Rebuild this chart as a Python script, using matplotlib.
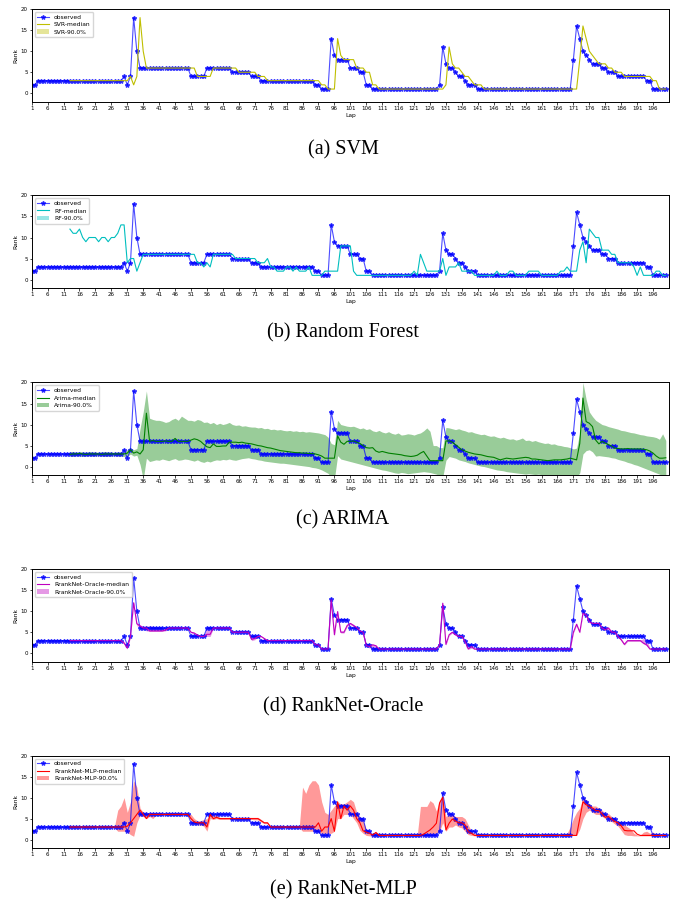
import numpy as np
import matplotlib
matplotlib.use("Agg")
import matplotlib.pyplot as plt

# laps 1..200 for the observed rank, forecasts start at lap 13
laps = np.arange(1, 201)
pred_laps = np.arange(13, 201)

observed = [
    2, 2, 3, 3, 3, 3, 3, 3, 3, 3,
    3, 3, 3, 3, 3, 3, 3, 3, 3, 3,
    3, 3, 3, 3, 3, 3, 3, 3, 3, 4,
    2, 4, 18, 10, 6, 6, 6, 6, 6, 6,
    6, 6, 6, 6, 6, 6, 6, 6, 6, 6,
    4, 4, 4, 4, 4, 6, 6, 6, 6, 6,
    6, 6, 6, 5, 5, 5, 5, 5, 5, 4,
    4, 4, 3, 3, 3, 3, 3, 3, 3, 3,
    3, 3, 3, 3, 3, 3, 3, 3, 3, 2,
    2, 1, 1, 1, 13, 9, 8, 8, 8, 8,
    6, 6, 6, 5, 5, 2, 2, 1, 1, 1,
    1, 1, 1, 1, 1, 1, 1, 1, 1, 1,
    1, 1, 1, 1, 1, 1, 1, 1, 2, 11,
    7, 6, 6, 5, 4, 4, 3, 2, 2, 2,
    1, 1, 1, 1, 1, 1, 1, 1, 1, 1,
    1, 1, 1, 1, 1, 1, 1, 1, 1, 1,
    1, 1, 1, 1, 1, 1, 1, 1, 1, 1,
    8, 16, 13, 10, 9, 8, 7, 7, 7, 6,
    6, 5, 5, 5, 4, 4, 4, 4, 4, 4,
    4, 4, 4, 3, 3, 1, 1, 1, 1, 1,
]

# SVR (no visible band)
svr_median = [
    3, 3, 3, 3, 3, 3, 3, 3,
    3, 3, 3, 3, 3, 3, 3, 3, 3, 3,
    3, 4, 2, 4, 18, 10, 6, 6, 6, 6,
    6, 6, 6, 6, 6, 6, 6, 6, 6, 6,
    6, 6, 4, 4, 4, 4, 4, 6, 6, 6,
    6, 6, 6, 6, 6, 5, 5, 5, 5, 5,
    5, 4, 4, 4, 3, 3, 3, 3, 3, 3,
    3, 3, 3, 3, 3, 3, 3, 3, 3, 3,
    3, 2, 2, 1, 1, 1, 13, 9, 8, 8,
    8, 8, 6, 6, 6, 5, 5, 2, 2, 1,
    1, 1, 1, 1, 1, 1, 1, 1, 1, 1,
    1, 1, 1, 1, 1, 1, 1, 1, 1, 1,
    2, 11, 7, 6, 6, 5, 4, 4, 3, 2,
    2, 2, 1, 1, 1, 1, 1, 1, 1, 1,
    1, 1, 1, 1, 1, 1, 1, 1, 1, 1,
    1, 1, 1, 1, 1, 1, 1, 1, 1, 1,
    1, 1, 8, 16, 13, 10, 9, 8, 7, 7,
    7, 6, 6, 5, 5, 5, 4, 4, 4, 4,
    4, 4, 4, 4, 4, 3, 3, 1, 1, 1,
]

# Random Forest (no visible band)
rf_median = [
    12, 11, 11, 12, 10, 9, 10, 10,
    10, 9, 10, 10, 9, 10, 10, 11, 13, 13,
    4, 5, 5, 2, 4, 6, 6, 6, 6, 6,
    6, 6, 6, 6, 6, 6, 6, 6, 6, 6,
    6, 6, 4, 4, 3, 4, 3, 6, 6, 6,
    6, 6, 6, 6, 5, 5, 5, 5, 5, 5,
    5, 4, 4, 4, 5, 3, 3, 2, 2, 2,
    3, 3, 2, 3, 2, 2, 2, 3, 1, 1,
    1, 1, 2, 2, 2, 2, 2, 8, 8, 8,
    8, 2, 1, 1, 1, 1, 1, 1, 1, 1,
    1, 1, 1, 1, 1, 1, 1, 1, 1, 1,
    2, 1, 6, 4, 2, 2, 2, 2, 2, 5,
    1, 3, 3, 3, 4, 2, 2, 2, 2, 1,
    1, 1, 1, 1, 1, 1, 2, 1, 1, 1,
    2, 2, 1, 1, 1, 1, 2, 2, 2, 2,
    1, 1, 1, 1, 1, 1, 2, 2, 3, 2,
    2, 2, 7, 9, 4, 12, 11, 10, 10, 7,
    7, 7, 6, 6, 4, 4, 4, 4, 4, 3,
    1, 3, 1, 1, 1, 1, 2, 2, 1, 1,
]

# ARIMA
arima_median = [
    2.9, 3, 3, 3.1, 3, 2.9, 3, 3,
    3, 3, 2.9, 3, 3, 3, 3, 3, 3, 3,
    3.2, 4, 3.2, 3.5, 3, 4, 12.7, 6, 6.2, 6,
    6, 6, 6.1, 6, 6, 6.7, 6, 6, 6, 6,
    6.3, 6.6, 6.4, 6, 5.3, 4.7, 4.5, 5.4, 4.8, 4.8,
    4.9, 4.9, 5.8, 5.8, 5.8, 5.7, 5.8, 5.6, 5.5, 5.4,
    5.2, 5, 4.9, 4.7, 4.5, 4.4, 4.2, 4, 3.8, 3.7,
    3.6, 3.5, 3.4, 3.3, 3.3, 3.2, 3.2, 3.1, 3.1, 3,
    2.8, 2.5, 2, 2, 2, 2, 7.3, 5.8, 5.3, 6,
    6, 6.1, 5.8, 5.5, 5, 4.5, 4.4, 4.5, 3.7, 3.4,
    3.6, 3.4, 3.2, 3.1, 3, 2.9, 2.8, 2.6, 2.5, 2.4,
    2.5, 2.7, 3.2, 3.6, 2.5, 1.4, 1.4, 1.4, 1.4, 1.4,
    6.1, 6.1, 5.8, 5.2, 4.6, 4, 3.7, 3.4, 3.2, 3,
    2.9, 2.8, 2.6, 2.4, 2.3, 2.2, 1.9, 1.6, 1.8, 2,
    1.9, 1.8, 1.9, 2, 2.1, 2.2, 2.1, 1.8, 1.8, 1.7,
    1.6, 1.5, 1.4, 1.5, 1.6, 1.6, 1.6, 1.7, 1.8, 2,
    1.8, 1.6, 5.5, 16.3, 10.7, 10.3, 9.5, 6.3, 5.4, 6,
    5.6, 5.2, 4.9, 4.4, 4.3, 4.2, 4.2, 4.3, 4.2, 4.2,
    4.2, 4.2, 4.1, 4, 3.7, 3.2, 2.5, 2, 2, 2.1,
]
arima_hi = [
    3.5, 3.6, 3.4, 3.6, 3.5, 3.4, 3.6, 3.5,
    3.5, 3.4, 3.5, 3.6, 3.5, 3.5, 3.4, 3.5, 3.5, 3.6,
    4, 4.5, 4, 4.3, 9, 13, 18, 11.5, 11.2, 11,
    11, 10.8, 10.5, 10.7, 11.2, 11.5, 11, 12, 11.5, 11,
    11, 10.8, 11.2, 11, 10.5, 10.6, 10.2, 10.5, 10, 10.3,
    10, 10.2, 10.5, 10, 9.8, 9.9, 9.6, 9.7, 9.5, 9.4,
    9.4, 9.2, 9.3, 9, 9.1, 8.8, 8.9, 8.7, 8.8, 8.6,
    8.5, 8.6, 8.4, 8.5, 8.3, 8.4, 8.2, 8.3, 8.2, 8.1,
    8, 7.8, 7.6, 7, 5.5, 5.2, 11, 10, 9.8, 9.6,
    9.5, 9.6, 9.3, 9, 9.2, 8.8, 9, 8.5, 8.3, 8.6,
    8.2, 8, 8.3, 7.9, 7.7, 8, 7.5, 7.6, 7.8, 7.7,
    7.5, 7.8, 8, 8.5, 9.2, 8.4, 5, 5, 4.5, 4.5,
    9.3, 9.2, 9, 8.8, 9, 8.7, 8.5, 8.2, 8.3, 8,
    7.8, 7.6, 7.7, 7.4, 7.2, 7.3, 7, 6.8, 7, 6.7,
    6.5, 6.6, 6.3, 6.5, 6.8, 6.2, 6.3, 6, 6.2, 5.9,
    5.7, 5.5, 5.6, 5.3, 5.4, 5.1, 5, 4.8, 4.7, 4.5,
    4.2, 4.4, 8, 20, 16, 13, 11.9, 11, 10.5, 10,
    9.8, 9.5, 9.3, 9.1, 8.9, 8.6, 8.5, 8.3, 8.1, 8,
    7.8, 7.6, 7.5, 7.3, 7.2, 7.1, 6.9, 6.5, 7.8, 6.2,
]
arima_lo = [
    2.5, 2.4, 2.6, 2.5, 2.4, 2.5, 2.6, 2.5,
    2.5, 2.6, 2.5, 2.4, 2.5, 2.5, 2.6, 2.5, 2.5, 2.4,
    2.4, 3, 2.5, 2.7, 0.5, -3, 2, 1.2, 1.4, 1.6,
    1.5, 1.8, 1.6, 1.4, 1.7, 1.9, 1.5, 1.6, 1.8, 1.7,
    1.5, 1.3, 1.6, 1.2, 1, 1.3, 1.1, 1.4, 1.6, 1.5,
    1.7, 1.6, 1.8, 1.6, 1.5, 1.7, 1.9, 2, 2.1, 1.9,
    1.8, 1.6, 1.5, 1.3, 1.2, 1.1, 1, 0.9, 0.8, 0.8,
    0.7, 0.6, 0.5, 0.4, 0.3, 0.2, 0.1, 0, -0.2, -0.3,
    -0.5, -0.8, -1.2, -1.6, -2.5, -3, 2.6, 1.8, 1.6, 1.4,
    1.2, 1, 0.8, 0.6, 0.4, 0.2, 0, -0.2, -0.4, -0.6,
    -0.8, -0.9, -1.1, -1.3, -1.5, -1.6, -1.4, -1.5, -1.7, -1.6,
    -1.5, -1.4, -1.3, -1.2, -1.3, -1.4, -1.6, -1.8, -2.2, -2.5,
    1.5, 2.4, 2.2, 2, 1.6, 1.4, 1.2, 0.9, 0.7, 0.5,
    0.3, 0.1, 0, -0.2, -0.4, -0.6, -0.8, -0.9, -1, -1.2,
    -1.3, -1.4, -1.5, -1.6, -1.7, -1.8, -1.7, -1.8, -1.9, -1.8,
    -1.9, -2, -1.9, -2, -2.1, -2, -2.1, -2.2, -2.2, -2.3,
    -2.5, -2.5, -1.5, 3, 3.8, 4, 3.5, 2.5, 2.6, 2.5,
    2.4, 2.3, 2.1, 2, 1.7, 1.5, 1.3, 1, 0.8, 0.5,
    0.3, 0, -0.3, -0.6, -0.9, -1.2, -1.5, -1.8, -2.2, -2.5,
]

# RankNet-Oracle
oracle_median = [
    3, 3, 3, 3, 3, 3, 3, 3,
    3, 3, 3, 3, 3, 3, 3, 3, 3, 2.4,
    1.2, 4, 12, 7, 6.5, 6, 6, 5.3, 5.3, 5.3,
    5.3, 5.3, 5.5, 6, 6, 6, 6, 6, 6, 6,
    5, 4.8, 4.3, 4, 4, 4.5, 4.5, 6, 6, 6,
    6, 6, 6, 5, 5, 5, 5, 5, 5, 3.3,
    3.5, 4, 4, 3.5, 3, 3, 3, 3, 3, 3,
    3, 3, 3, 3, 3, 3, 3, 3, 3, 2,
    2, 1, 1, 1, 12.7, 4.4, 9.9, 5, 5, 6.6,
    7.1, 6.6, 6.1, 5.3, 5, 1.8, 1.6, 2, 1.8, 1,
    1, 1, 1, 1, 1, 1, 1, 1, 1, 1,
    1, 1, 1, 1, 1, 1, 1, 1, 2, 11.9,
    2.1, 4.4, 5, 4.4, 4, 4, 2.8, 1, 1.6, 1,
    1, 1, 1, 1, 1, 1, 1, 1, 1, 1,
    1, 1, 1, 1, 1, 1, 1, 1, 1, 1,
    1, 1, 1, 1, 1, 1, 1, 1, 1, 1,
    5, 6.9, 5, 9.5, 9.1, 7.5, 7.1, 7.1, 7.1, 6,
    5.6, 6, 5, 5, 4, 3.2, 2.1, 3, 3, 3,
    3, 3, 2.4, 2, 1, 1, 1, 1, 1, 1,
]
oracle_lo = [
    2.9, 2.9, 2.9, 2.9, 2.9, 2.9, 2.9, 2.9,
    2.9, 2.9, 2.9, 2.9, 2.9, 2.9, 2.9, 2.9, 2.9, 2.2,
    1, 3.8, 11.5, 6.5, 6.2, 5.8, 5.3, 5.2, 5.2, 5.2,
    5.2, 5.2, 5.3, 5.8, 5.9, 5.9, 5.9, 5.9, 5.9, 5.9,
    4.8, 4.6, 4.2, 3.9, 3.9, 4, 4, 5.9, 5.9, 5.9,
    5.9, 5.9, 5.9, 4.9, 4.9, 4.9, 4.9, 4.9, 4.9, 3,
    3.2, 3.9, 3.9, 3.3, 2.9, 2.9, 2.9, 2.9, 2.9, 2.9,
    2.9, 2.9, 2.9, 2.9, 2.9, 2.9, 2.9, 2.9, 2.9, 1.9,
    1.9, 0.9, 0.9, 0.9, 12, 4, 9.5, 4.8, 4.8, 6.3,
    6.8, 6.3, 5.9, 5.1, 4.8, 1.6, 1.2, 1.3, 1.2, 0.9,
    0.9, 0.9, 0.9, 0.9, 0.9, 0.9, 0.9, 0.9, 0.9, 0.9,
    0.9, 0.9, 0.9, 0.9, 0.9, 0.9, 0.9, 0.9, 1.8, 11.5,
    1.9, 4.2, 4.8, 4.2, 3.8, 3.8, 2.6, 0.9, 1.2, 0.9,
    0.9, 0.9, 0.9, 0.9, 0.9, 0.9, 0.9, 0.9, 0.9, 0.9,
    0.9, 0.9, 0.9, 0.9, 0.9, 0.9, 0.9, 0.9, 0.9, 0.9,
    0.9, 0.9, 0.9, 0.9, 0.9, 0.9, 0.9, 0.9, 0.9, 0.9,
    4.8, 6.6, 4.8, 9.2, 8.8, 7.2, 6.9, 6.9, 6.9, 5.8,
    5.4, 5.7, 4.8, 4.8, 3.8, 3, 1.9, 2.8, 2.8, 2.8,
    2.8, 2.8, 2.2, 1.8, 0.9, 0.9, 0.9, 0.9, 0.9, 0.9,
]
oracle_hi = [
    3.1, 3.1, 3.1, 3.1, 3.1, 3.1, 3.1, 3.1,
    3.1, 3.1, 3.1, 3.1, 3.1, 3.1, 3.1, 3.1, 3.1, 2.8,
    1.6, 4.3, 12.3, 7.3, 6.8, 6.4, 6.5, 6.5, 6.4, 6.3,
    6.2, 6, 6, 6.1, 6.1, 6.1, 6.1, 6.1, 6.1, 6.1,
    5.2, 5, 4.6, 4.2, 4.2, 6, 5.8, 6.1, 6.1, 6.1,
    6.1, 6.1, 6.1, 5.1, 5.1, 5.1, 5.1, 5.1, 5.1, 3.8,
    4, 4.1, 4.1, 3.7, 3.1, 3.1, 3.1, 3.1, 3.1, 3.1,
    3.1, 3.1, 3.1, 3.1, 3.1, 3.1, 3.1, 3.1, 3.1, 2.1,
    2.1, 1.1, 1.1, 1.1, 13, 4.8, 10.2, 5.3, 5.3, 6.9,
    7.3, 6.9, 6.3, 5.5, 5.2, 2.2, 2.3, 2.2, 2, 1.1,
    1.1, 1.1, 1.1, 1.1, 1.1, 1.1, 1.1, 1.1, 1.1, 1.1,
    1.1, 1.1, 1.1, 1.1, 1.1, 1.1, 1.1, 1.1, 2.2, 12.2,
    2.3, 4.6, 5.2, 4.6, 4.2, 4.2, 3, 1.3, 1.8, 1.1,
    1.1, 1.1, 1.1, 1.1, 1.1, 1.1, 1.1, 1.1, 1.1, 1.1,
    1.1, 1.1, 1.1, 1.1, 1.1, 1.1, 1.1, 1.1, 1.1, 1.1,
    1.1, 1.1, 1.1, 1.1, 1.1, 1.1, 1.1, 1.1, 1.1, 1.1,
    5.3, 7.2, 5.3, 9.8, 9.4, 7.8, 7.3, 7.3, 7.3, 6.3,
    6, 6.3, 5.3, 5.2, 4.2, 3.5, 2.4, 3.2, 3.2, 3.2,
    3.2, 3.2, 3.5, 3.3, 1.3, 1.1, 1.1, 1.1, 1.1, 1.1,
]

# RankNet-MLP
mlp_median = [
    3, 3, 3, 3, 3, 3, 3, 3,
    3, 3, 3, 3, 3, 3, 3, 3, 3, 3,
    3.2, 4, 5, 6, 7, 6, 5, 6, 6, 6,
    6, 6, 6, 6, 6, 6, 6, 6, 6, 6,
    5, 4.2, 4, 4, 4, 3, 6, 5, 5.3, 5,
    5, 5, 5, 5, 5, 5, 5, 5, 5, 5,
    5, 5, 4.5, 4, 4, 3, 3, 3, 3, 3,
    3, 3, 3, 3, 3, 3, 3, 3, 3, 3,
    4, 2, 3, 3, 5, 2, 9, 5, 8, 7,
    8, 7, 5, 4, 2.1, 1.8, 1.5, 1.1, 1.7, 1,
    1, 1, 1, 1, 1, 1, 1, 1, 1, 1,
    1, 1, 1, 1.3, 1.8, 2.3, 3, 3.9, 8.7, 10.1,
    2.3, 3.9, 4.9, 4.4, 4, 4, 3.5, 1.9, 1.5, 1,
    1, 1, 1, 1, 1, 1, 1, 1, 1, 1,
    1, 1, 1, 1, 1, 1, 1, 1, 1, 1,
    1, 1, 1, 1, 1, 1, 1, 1, 1, 1,
    1, 1, 5, 9, 8.3, 7.9, 7.5, 6.9, 6.9, 6.1,
    5.3, 5.5, 4.9, 4.3, 4, 3.3, 2.2, 2.1, 2.1, 2.1,
    1.3, 1, 1, 1, 1, 1, 1, 1, 1, 1,
]
mlp_lo = [
    2.8, 2.8, 2.8, 2.8, 2.8, 2.8, 2.8, 2.8,
    2.8, 2.8, 2.8, 2.8, 2.8, 2.8, 2.8, 2, 2, 2,
    1.8, 1.2, 0.8, 4, 5.8, 5.5, 5, 5.5, 5, 5.8,
    5.8, 5.8, 5.8, 5.8, 5.8, 5.8, 5.8, 5.8, 5.8, 5.8,
    4.5, 3.8, 3.5, 3.5, 3.2, 2, 5, 4.8, 5, 4.8,
    4.8, 4.8, 4.8, 4.8, 4.8, 4.8, 4.8, 4.8, 4.8, 4.8,
    4.7, 4.7, 4.2, 3.8, 3.8, 2.8, 2.8, 2.8, 2.8, 2.8,
    2.8, 2.8, 2.8, 2.8, 2.8, 2, 2, 2, 2, 2,
    1.8, 1.5, 1.5, 1.5, 1.5, 2, 5, 5, 6, 6,
    6, 5, 4, 2.2, 1.5, 1, 0.9, 0.9, 0.9, 0.9,
    0.9, 0.9, 0.9, 0.9, 0.9, 0.9, 0.9, 0.9, 0.9, 0.9,
    0.9, 0.9, 0.9, 0.9, 1, 1.2, 1.3, 1.5, 2, 4,
    2, 3, 3, 3.5, 3, 2.8, 2, 1.2, 1, 0.9,
    0.9, 0.9, 0.9, 0.9, 0.9, 0.9, 0.9, 0.9, 0.9, 0.9,
    0.9, 0.9, 0.9, 0.9, 0.9, 0.9, 0.9, 0.9, 0.9, 0.9,
    0.9, 0.9, 0.9, 0.9, 0.9, 0.9, 0.9, 0.9, 0.9, 0.9,
    1, 1, 2.5, 5, 6.5, 7, 6.5, 6, 6, 5.5,
    5, 4.5, 4.3, 3.7, 3.2, 2.2, 1.2, 1, 1, 0.9,
    0.9, 0.9, 0.9, 0.9, 0.9, 0.9, 0.9, 0.9, 0.9, 0.9,
]
mlp_hi = [
    3.2, 3.2, 3.2, 3.2, 3.2, 3.2, 3.2, 3.2,
    3.2, 3.2, 3.2, 3.2, 3.2, 3.2, 3.2, 7, 8, 10,
    6.5, 9, 14, 12.5, 7.5, 6.5, 6.5, 6.3, 6.3, 6.2,
    6.2, 6.2, 6.2, 6.2, 6.2, 6.2, 6.2, 6.2, 6.2, 6.2,
    6, 5, 4.5, 4.5, 4.8, 5, 6.5, 6, 6, 5.3,
    5.3, 5.3, 5.3, 5.3, 5.3, 5.3, 5.3, 5.3, 5.3, 5.3,
    5.3, 5.3, 4.8, 4.2, 4.2, 3.2, 3.2, 3.2, 3.2, 3.2,
    3.2, 3.2, 3.2, 3.2, 3.2, 12.5, 11, 13, 14, 14,
    13, 9, 6.5, 6, 7, 8, 9, 8.5, 8.5, 9,
    9.6, 9, 6.5, 5.5, 4.5, 2.5, 1.5, 1.3, 2, 1.2,
    1.1, 1.1, 1.1, 1.1, 1.1, 1.1, 1.1, 1.1, 1.1, 1.1,
    1.1, 1.1, 7.9, 7.9, 7.9, 9.3, 8.7, 6.8, 9.5, 10,
    5.5, 6, 6, 5.5, 5.5, 5.5, 5, 3.5, 2, 1.5,
    1.3, 1.5, 1.1, 1.1, 1.1, 1.1, 1.1, 1.1, 1.1, 1.1,
    1.1, 1.1, 1.1, 1.1, 1.1, 1.1, 1.1, 1.1, 1.1, 1.1,
    1.1, 1.1, 1.1, 1.1, 1.1, 1.1, 1.1, 1.1, 1.5, 3,
    5, 6.5, 7.5, 10, 9.5, 8.5, 8, 8, 7.5, 7,
    6.2, 6.2, 5.5, 4.6, 4.5, 4, 3.5, 3, 2.5, 1.5,
    1.1, 1.1, 1.8, 2, 1.5, 1.8, 1.2, 1.1, 1.1, 1.1,
]

# (model name, colour, median, lower, upper, caption)
panels = [
    ("SVR", "#bfbf00", svr_median, svr_median, svr_median, "(a) SVM"),
    ("RF", "#00bfbf", rf_median, rf_median, rf_median, "(b) Random Forest"),
    ("Arima", "#008000", arima_median, arima_lo, arima_hi, "(c) ARIMA"),
    ("RrankNet-Oracle", "#bf00bf", oracle_median, oracle_lo, oracle_hi, "(d) RankNet-Oracle"),
    ("RrankNet-MLP", "#ff0000", mlp_median, mlp_lo, mlp_hi, "(e) RankNet-MLP"),
]

fig = plt.figure(figsize=(6.86, 9.07), dpi=100)

ax_bottoms = [0.8879, 0.6825, 0.4763, 0.2705, 0.0650]
caption_y = [0.8346, 0.6329, 0.4267, 0.2205, 0.0187]

for (name, col, med, lo, hi, caption), b, cy in zip(panels, ax_bottoms, caption_y):
    ax = fig.add_axes([0.0462, b, 0.929, 0.102])
    ax.plot(laps, observed, "*-", color="#0000ff", alpha=0.7, linewidth=0.8,
            markersize=3.2, label="observed")
    ax.plot(pred_laps, med, color=col, linewidth=0.8, label=name + "-median")
    ax.fill_between(pred_laps, lo, hi, color=col, alpha=0.4, linewidth=0,
                    label=name + "-90.0%")

    ax.set_xlim(1, 201)
    ax.set_ylim(-2, 20)
    ax.set_xticks(np.arange(1, 201, 5))
    ax.set_yticks([0, 5, 10, 15, 20])
    ax.tick_params(labelsize=4.0, length=1.8, width=0.5, pad=1)
    for sp in ax.spines.values():
        sp.set_linewidth(0.7)
    ax.set_xlabel("Lap", fontsize=4.3, labelpad=1.5)
    ax.set_ylabel("Rank", fontsize=4.3, labelpad=2)
    ax.legend(loc="upper left", fontsize=4.3, framealpha=0.8,
              borderpad=0.45, labelspacing=0.35, handlelength=2.0)

    fig.text(0.5, cy, caption, ha="center", va="center",
             family="Liberation Serif", fontsize=14.5)

fig.savefig("out.png", dpi=100)
